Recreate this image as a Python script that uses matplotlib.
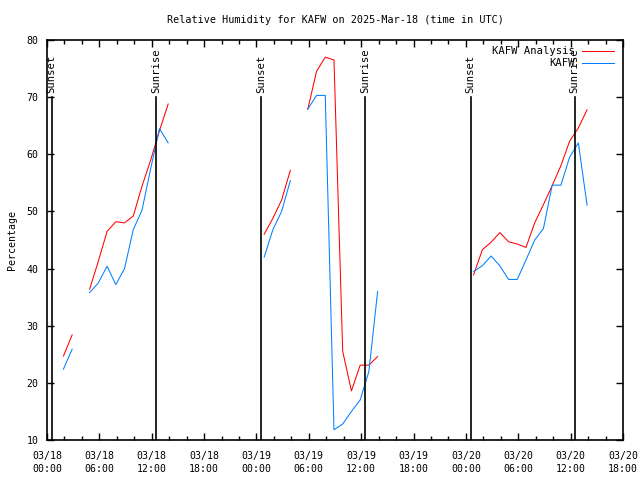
import numpy as np
import pandas as pd
import matplotlib
matplotlib.use("Agg")
import matplotlib.pyplot as plt
import matplotlib.dates as mdates

nan = np.nan

# observation hours (UTC, at :53) per day, nan rows break the line like gnuplot
hours_0318 = [1, 2, 3, 4, 5, 6, 7, 8, 9, 10, 11, 12, 13, 14]
hours_0319 = [0, 1, 2, 3, 4, 5, 6, 7, 8, 9, 10, 11, 12, 13, 14]
hours_0320 = [0, 1, 2, 3, 4, 5, 6, 7, 8, 9, 10, 11, 12, 13]

analysis_0318 = [24.7, 28.4, nan, 36.4, 41.3, 46.5, 48.2, 48.0, 49.2, 54.4, 59.0, 64.1, 68.8, nan]
analysis_0319 = [46.0, 48.8, 52.0, 57.2, nan, 67.9, 74.5, 77.0, 76.5, 25.5, 18.6, 23.1, 23.1, 24.6, nan]
analysis_0320 = [38.9, 43.3, 44.6, 46.3, 44.7, 44.3, 43.7, 48.0, 51.2, 54.5, 58.0, 62.3, 64.6, 67.8]

obs_0318 = [22.4, 25.9, nan, 35.8, 37.5, 40.4, 37.2, 40.0, 46.8, 50.2, 57.5, 64.5, 62.0, nan]
obs_0319 = [42.0, 46.8, 50.0, 55.4, nan, 67.9, 70.3, 70.3, 11.8, 12.8, 15.0, 17.0, 22.0, 36.0, nan]
obs_0320 = [39.5, 40.5, 42.2, 40.5, 38.1, 38.1, 41.5, 45.0, 47.0, 54.6, 54.6, 59.5, 62.0, 51.1]

sunsets = ["2025-03-18 00:31", "2025-03-19 00:32", "2025-03-20 00:33"]
sunrises = ["2025-03-18 12:30", "2025-03-19 12:29", "2025-03-20 12:27"]


def to_times(day, hours):
    return [pd.Timestamp(day) + pd.Timedelta(hours=h, minutes=53) for h in hours]


times = (to_times("2025-03-18", hours_0318) + to_times("2025-03-19", hours_0319)
         + to_times("2025-03-20", hours_0320))
analysis = analysis_0318 + analysis_0319 + analysis_0320
obs = obs_0318 + obs_0319 + obs_0320

plt.rcParams['font.family'] = ['DejaVu Sans Mono']
plt.rcParams['font.size'] = 7.1

fig = plt.figure(figsize=(6.4, 4.8), dpi=100)
ax = fig.add_axes([47 / 640, 40 / 480, 576 / 640, 400 / 480])

ax.plot(times, analysis, color='#ff0000', lw=0.75, label='KAFW Analysis')
ax.plot(times, obs, color='#0080ff', lw=0.75, label='KAFW')

for t in sunsets:
    t = pd.Timestamp(t)
    ax.plot([t, t], [70, 10], color='black', lw=1.2)
    ax.text(t, 70.8, 'Sunset', rotation=90, ha='center', va='bottom', fontsize=7.6)
for t in sunrises:
    t = pd.Timestamp(t)
    ax.plot([t, t], [70, 10], color='black', lw=1.2)
    ax.text(t, 70.8, 'Sunrise', rotation=90, ha='center', va='bottom', fontsize=7.6)

ax.set_xlim(pd.Timestamp("2025-03-18 00:00"), pd.Timestamp("2025-03-20 18:00"))
ax.set_ylim(10, 80)
ax.set_yticks(range(10, 81, 10))
ax.xaxis.set_major_locator(mdates.HourLocator(byhour=[0, 6, 12, 18]))
ax.xaxis.set_minor_locator(mdates.HourLocator(interval=2))
ax.xaxis.set_major_formatter(mdates.DateFormatter('%m/%d\n%H:%M'))
ax.tick_params(which='both', direction='in', top=True, right=True, width=1)
ax.tick_params(which='major', length=5)
ax.tick_params(which='minor', length=3)
ax.tick_params(axis='x', which='major', pad=8)
ax.tick_params(axis='y', which='major', pad=6)
for lbl in ax.get_xticklabels():
    lbl.set_linespacing(1.35)
for s in ax.spines.values():
    s.set_linewidth(1.2)

ax.set_ylabel('Percentage', labelpad=7)
ax.set_title('Relative Humidity for KAFW on 2025-Mar-18 (time in UTC)', fontsize=7.3, pad=12)

ax.legend(loc='upper right', bbox_to_anchor=(0.995, 1.0), frameon=False, markerfirst=False,
          handlelength=3.0, handletextpad=0.7, labelspacing=0.2, borderaxespad=0.2,
          fontsize=7.6)

fig.savefig('out.png', dpi=100)
